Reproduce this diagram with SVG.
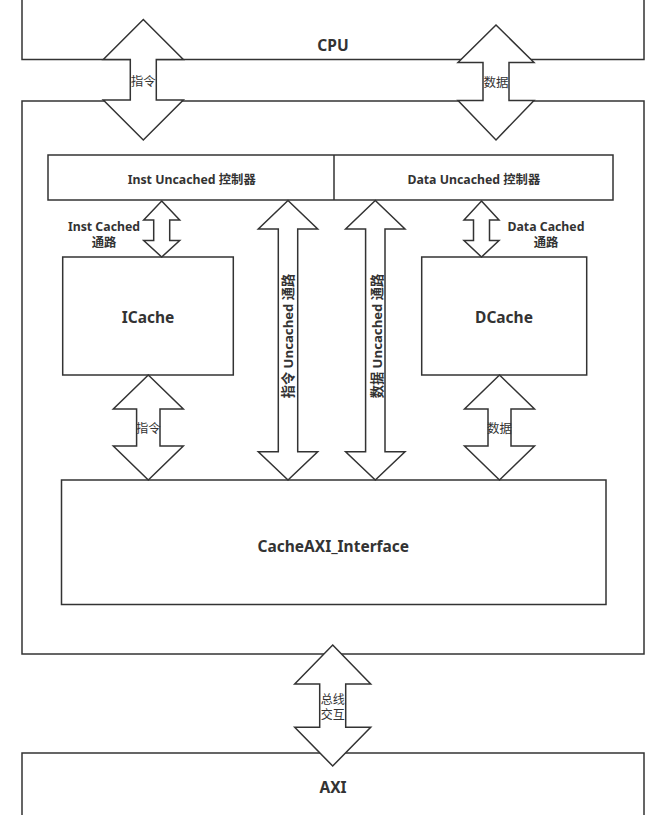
<svg xmlns="http://www.w3.org/2000/svg" width="659" height="815" viewBox="0 0 659 815">
<style>
.box{fill:#fff;stroke:#333;stroke-width:1.5}
.arr{fill:#fff;stroke:#333;stroke-width:1.5;stroke-linejoin:miter}
text{font-family:"Noto Sans","Noto Sans CJK SC",sans-serif;fill:#333;text-anchor:middle}
.big{font-size:15.5px;font-weight:bold}
.mid{font-size:12.3px;font-weight:bold}
.rot{font-size:13.2px;font-weight:bold}
.lab{font-size:12.5px}
.cjk{font-family:"Noto Sans CJK SC",sans-serif;font-size:12px}
</style>
<rect width="659" height="815" fill="#fff"/>
<g id="cpu"><rect class="box" x="22" y="-5" width="622" height="64.5"/><text class="big" x="333" y="50.5">CPU</text></g>
<g id="core"><rect class="box" x="22" y="101" width="622" height="553"/></g>
<g id="axi"><rect class="box" x="22" y="753" width="622" height="70"/><text class="big" x="333" y="792.5">AXI</text></g>
<g id="uncached-ctrl">
<rect class="box" x="48" y="155" width="565" height="45"/>
<line x1="334" y1="155" x2="334" y2="200" stroke="#333" stroke-width="1.5"/>
<text class="mid" x="191.7" y="183.5">Inst Uncached 控制器</text>
<text class="mid" x="473.8" y="183.5">Data Uncached 控制器</text>
</g>
<g id="icache"><rect class="box" x="62.7" y="257" width="170.6" height="118"/><text class="big" x="148" y="323">ICache</text></g>
<g id="dcache"><rect class="box" x="421.7" y="257" width="165" height="118"/><text class="big" x="504" y="323">DCache</text></g>
<g id="cacheaxi"><rect class="box" x="61.5" y="480" width="544.5" height="124.5"/><text class="big" x="333.3" y="551.5">CacheAXI_Interface</text></g>
<g id="connectors">
<polygon class="arr" points="143.3,19.5 183.3,59.5 156.3,59.5 156.3,100 183.3,100 143.3,140 103.3,100 130.3,100 130.3,59.5 103.3,59.5"/>
<text class="lab" x="143.3" y="86">指令</text>
<polygon class="arr" points="496,25 534,62.5 509,62.5 509,100.5 534,100.5 496,140 458,100.5 483,100.5 483,62.5 458,62.5"/>
<text class="lab" x="496" y="87">数据</text>
<polygon class="arr" points="161.7,201 179.7,220 169.7,220 169.7,240.5 179.7,240.5 161.7,257 143.7,240.5 153.7,240.5 153.7,220 143.7,220"/>
<text class="mid" x="104" y="231">Inst Cached<tspan x="104" dy="15.5">通路</tspan></text>
<polygon class="arr" points="481.5,201 499,220 489.5,220 489.5,240.5 499,240.5 481.5,257 464,240.5 473.5,240.5 473.5,220 464,220"/>
<text class="mid" x="546" y="231">Data Cached<tspan x="546" dy="15.5">通路</tspan></text>
<polygon class="arr" points="288,200.5 317.7,229 297.7,229 297.7,451.7 317.7,451.7 288,480 258.3,451.7 278.3,451.7 278.3,229 258.3,229"/>
<text class="rot" transform="translate(292.5,336) rotate(-90)">指令 Uncached 通路</text>
<polygon class="arr" points="375.3,200.5 405,229 385,229 385,451.7 405,451.7 375.3,480 345.6,451.7 365.6,451.7 365.6,229 345.6,229"/>
<text class="rot" transform="translate(381.5,336) rotate(-90)">数据 Uncached 通路</text>
<polygon class="arr" points="148.3,375 183.3,409 160,409 160,446 183.3,446 148.3,480 113.3,446 136.6,446 136.6,409 113.3,409"/>
<text class="lab" x="148.3" y="432.5">指令</text>
<polygon class="arr" points="499.5,375 534.5,409 511,409 511,446 534.5,446 499.5,480 464.5,446 488,446 488,409 464.5,409"/>
<text class="lab" x="499.5" y="432.5">数据</text>
<polygon class="arr" points="332.7,645 370.7,684 345.7,684 345.7,727.3 370.7,727.3 332.7,766 294.7,727.3 319.7,727.3 319.7,684 294.7,684"/>
<text class="cjk" x="332.7" y="704">总线<tspan x="332.7" dy="14.5">交互</tspan></text>
</g>
</svg>
